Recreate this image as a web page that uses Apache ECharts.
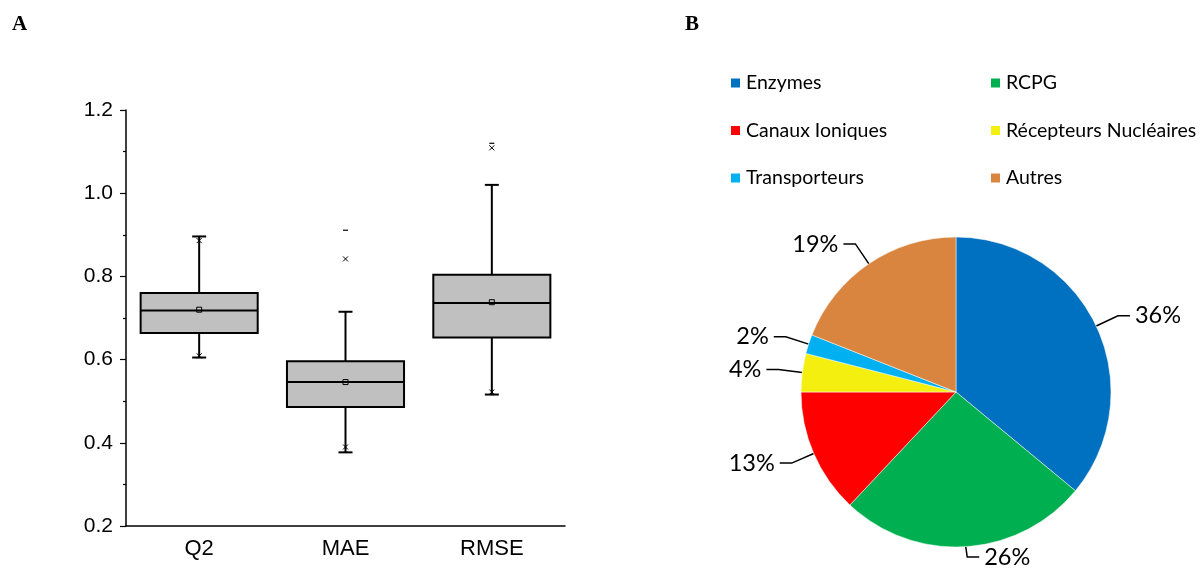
<!DOCTYPE html>
<html>
<head>
<meta charset="utf-8">
<script src="https://cdn.jsdelivr.net/npm/echarts@6/dist/echarts.min.js"></script>
<style>
  html, body { margin: 0; padding: 0; background: #fff; }
  #chart { width: 1202px; height: 570px; }
</style>
</head>
<body>
<div id="chart"></div>
<script>
// Panel A: distribution of model performance metrics
const categories = ['Q2', 'MAE', 'RMSE'];
const whiskerLow  = [0.605, 0.377, 0.516];
const q1          = [0.664, 0.486, 0.653];
const median      = [0.718, 0.546, 0.736];
const q3          = [0.760, 0.596, 0.804];
const whiskerHigh = [0.896, 0.715, 1.020];
const means       = [0.720, 0.546, 0.738];
const pct1        = [0.609, 0.390, 0.522];
const pct99       = [0.886, 0.842, 1.109];
const minVals     = [0.605, 0.377, 0.516];
const maxVals     = [0.896, 0.911, 1.120];
const yTicks      = [0.2, 0.4, 0.6, 0.8, 1.0, 1.2];

// Panel B: target class shares (%)
const classNames  = ['Enzymes', 'RCPG', 'Canaux Ioniques', 'Récepteurs Nucléaires', 'Transporteurs', 'Autres'];
const classShares = [36, 26, 13, 4, 2, 19];
const classColors = ['#0070C0', '#00B050', '#FF0000', '#F5EF10', '#00B0F0', '#D9843F'];

const boxData = categories.map((c, i) => [
  i, whiskerLow[i], q1[i], median[i], q3[i], whiskerHigh[i],
  means[i], pct1[i], pct99[i], minVals[i], maxVals[i]
]);

function renderBox(params, api) {
  const idx = api.value(0);
  const band = api.size([1, 0])[0];
  const half = band * 0.4;
  const cap = 7;
  const pt = v => api.coord([idx, v]);
  const cx = pt(api.value(3))[0];
  const yLow = pt(api.value(1))[1];
  const yQ1 = pt(api.value(2))[1];
  const yMed = pt(api.value(3))[1];
  const yQ3 = pt(api.value(4))[1];
  const yHigh = pt(api.value(5))[1];
  const yMean = pt(api.value(6))[1];
  const lineStyle = { stroke: '#000', lineWidth: 2, fill: null };
  const thin = { stroke: '#000', lineWidth: 1, fill: null };
  const children = [
    { type: 'line', shape: { x1: cx, y1: yQ3, x2: cx, y2: yHigh }, style: lineStyle },
    { type: 'line', shape: { x1: cx, y1: yQ1, x2: cx, y2: yLow }, style: lineStyle },
    { type: 'line', shape: { x1: cx - cap, y1: yHigh, x2: cx + cap, y2: yHigh }, style: lineStyle },
    { type: 'line', shape: { x1: cx - cap, y1: yLow, x2: cx + cap, y2: yLow }, style: lineStyle },
    { type: 'rect', shape: { x: cx - half, y: yQ3, width: half * 2, height: yQ1 - yQ3 },
      style: { fill: '#C0C0C0', stroke: '#000', lineWidth: 2 } },
    { type: 'line', shape: { x1: cx - half, y1: yMed, x2: cx + half, y2: yMed }, style: lineStyle },
    { type: 'rect', shape: { x: cx - 2.5, y: yMean - 2.5, width: 5, height: 5 }, style: thin }
  ];
  // 1st / 99th percentile crosses
  [api.value(7), api.value(8)].forEach(v => {
    const y = pt(v)[1];
    children.push({ type: 'line', shape: { x1: cx - 2.5, y1: y - 2.5, x2: cx + 2.5, y2: y + 2.5 }, style: thin });
    children.push({ type: 'line', shape: { x1: cx - 2.5, y1: y + 2.5, x2: cx + 2.5, y2: y - 2.5 }, style: thin });
  });
  // min / max dashes
  [api.value(9), api.value(10)].forEach(v => {
    const y = pt(v)[1];
    children.push({ type: 'line', shape: { x1: cx - 2.5, y1: y, x2: cx + 2.5, y2: y }, style: { stroke: '#000', lineWidth: 1.2 } });
  });
  return { type: 'group', children };
}

const legends = classNames.map((name, i) => ({
  data: [name],
  left: i % 2 === 0 ? 729 : 989,
  top: 73 + Math.floor(i / 2) * 47.5,
  icon: 'rect',
  itemWidth: 11,
  itemHeight: 11,
  selectedMode: false,
  padding: 0,
  textStyle: { fontFamily: 'Lato', fontSize: 19.5, color: '#000' }
}));

const chart = echarts.init(document.getElementById('chart'), null, { renderer: 'canvas' });
chart.setOption({
  animation: false,
  backgroundColor: '#fff',
  graphic: [
    { type: 'text', left: 12, top: 14, style: { text: 'A', font: 'bold 21px "Liberation Serif"', fill: '#000' } },
    { type: 'text', left: 685, top: 14, style: { text: 'B', font: 'bold 21px "Liberation Serif"', fill: '#000' } }
  ],
  legend: legends,
  grid: { left: 126, top: 110, width: 439, height: 416, containLabel: false },
  xAxis: {
    type: 'category',
    data: categories,
    boundaryGap: true,
    axisLine: { lineStyle: { color: '#000', width: 1.5 } },
    axisTick: { alignWithLabel: true, length: 7, lineStyle: { color: '#000', width: 1.2 } },
    axisLabel: { fontFamily: 'Liberation Sans', fontSize: 22, color: '#000', margin: 12 },
    splitLine: { show: false }
  },
  yAxis: {
    type: 'value',
    min: yTicks[0],
    max: yTicks[yTicks.length - 1],
    interval: 0.2,
    axisLine: { show: true, lineStyle: { color: '#000', width: 1.5 } },
    axisTick: { show: true, length: 6, lineStyle: { color: '#000', width: 1.2 } },
    minorTick: { show: true, splitNumber: 2, length: 3, lineStyle: { color: '#000', width: 1.2 } },
    axisLabel: { fontFamily: 'Liberation Sans', fontSize: 21, color: '#000', margin: 13,
      formatter: v => v.toFixed(1) },
    splitLine: { show: false }
  },
  series: [
    {
      type: 'custom',
      name: 'metrics',
      renderItem: renderBox,
      data: boxData,
      encode: { x: 0, y: [1, 5] },
      z: 3
    },
    {
      type: 'pie',
      center: [956, 392],
      radius: 155,
      startAngle: 90,
      clockwise: true,
      avoidLabelOverlap: true,
      data: classNames.map((n, i) => ({ name: n, value: classShares[i], itemStyle: { color: classColors[i] } })),
      itemStyle: { borderColor: '#fff', borderWidth: 0.5 },
      label: {
        show: true,
        position: 'outside',
        formatter: p => Math.round(p.percent) + '%',
        fontFamily: 'Lato',
        fontSize: 23.5,
        color: '#000'
      },
      labelLine: { show: true, length: 24, length2: 12, lineStyle: { color: '#000', width: 1.5 } },
      emphasis: { disabled: true }
    }
  ]
});
</script>
</body>
</html>
